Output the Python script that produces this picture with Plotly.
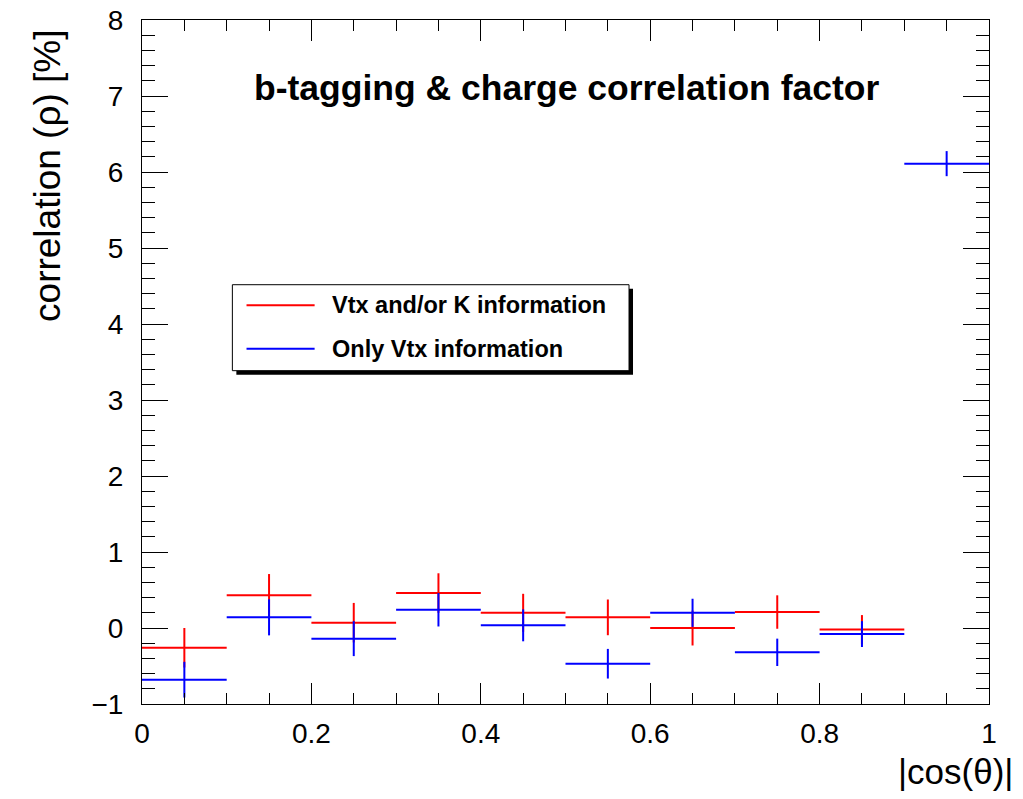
import plotly.graph_objects as go

# |cos(theta)| bins (centres and half-widths)
bin_centers = [0.05, 0.15, 0.25, 0.35, 0.45, 0.55, 0.65, 0.75, 0.85, 0.95]
bin_half_width = 0.05

# correlation factor [%] for the two tagging configurations
vtx_k_values = [-0.26, 0.43, 0.07, 0.46, 0.20, 0.14, 0.00, 0.21, -0.02]
vtx_k_errors = [0.26, 0.28, 0.26, 0.26, 0.25, 0.235, 0.23, 0.22, 0.19]
vtx_only_values = [-0.68, 0.14, -0.14, 0.24, 0.035, -0.47, 0.20, -0.32, -0.08, 6.11]
vtx_only_errors = [0.235, 0.237, 0.23, 0.22, 0.21, 0.195, 0.185, 0.18, 0.17, 0.165]

series_names = ["Vtx and/or K information", "Only Vtx information"]
series_colors = ["#ff0000", "#0000ff"]

FONT = "Liberation Sans, Arial, Helvetica, sans-serif"

fig = go.Figure()


def add_series(values, errors, color, name):
    n = len(values)
    fig.add_trace(go.Scatter(
        x=bin_centers[:n], y=values, name=name, mode="markers",
        marker=dict(size=1, color=color, opacity=0),
        error_x=dict(type="data", array=[bin_half_width] * n, symmetric=True,
                     color=color, thickness=2, width=0),
        error_y=dict(type="data", array=errors, symmetric=True,
                     color=color, thickness=2, width=0),
        showlegend=False, hoverinfo="x+y",
    ))


add_series(vtx_k_values, vtx_k_errors, series_colors[0], series_names[0])
add_series(vtx_only_values, vtx_only_errors, series_colors[1], series_names[1])

axis_common = dict(
    showline=True, linecolor="black", linewidth=1, mirror="ticks",
    ticks="inside", tickcolor="black", tickwidth=1,
    showgrid=False, zeroline=False, automargin=False,
    tickfont=dict(family=FONT, size=28, color="black"),
)

fig.update_xaxes(
    range=[0, 1], tickmode="linear", tick0=0, dtick=0.2, ticklen=21,
    tickformat="~g", ticklabelstandoff=4,
    minor=dict(ticks="inside", dtick=0.05, ticklen=11, tickcolor="black",
               tickwidth=1, showgrid=False),
    **axis_common,
)
fig.update_yaxes(
    range=[-1, 8], tickmode="linear", tick0=0, dtick=1, ticklen=26,
    ticklabelstandoff=12,
    minor=dict(ticks="inside", dtick=0.2, ticklen=13, tickcolor="black",
               tickwidth=1, showgrid=False),
    **axis_common,
)

annotations = [
    dict(text="<b>b-tagging & charge correlation factor</b>", x=0.501, y=0.901,
         xref="paper", yref="paper", showarrow=False, xanchor="center",
         yanchor="middle", font=dict(family=FONT, size=35.5, color="black")),
    dict(text="correlation (ρ) [%]", x=-0.111, y=0.772, xref="paper",
         yref="paper", showarrow=False, textangle=-90, xanchor="center",
         yanchor="middle", font=dict(family=FONT, size=37, color="black")),
    dict(text="|cos(θ)|", x=1.031, y=-0.099, xref="paper", yref="paper",
         showarrow=False, xanchor="right", yanchor="middle",
         font=dict(family=FONT, size=35, color="black")),
]

# legend box with drop shadow
box = dict(x0=0.1067, x1=0.575, y0=0.4873, y1=0.613)
shapes = [
    dict(type="rect", xref="paper", yref="paper",
         x0=box["x0"] + 0.0047, x1=box["x1"] + 0.0047,
         y0=box["y0"] - 0.0058, y1=box["y1"] - 0.0058,
         fillcolor="black", line=dict(width=0), layer="above"),
    dict(type="rect", xref="paper", yref="paper", **box,
         fillcolor="white", line=dict(color="black", width=1), layer="above"),
]
legend_rows_y = [0.5828, 0.5195]
for name, color, ly in zip(series_names, series_colors, legend_rows_y):
    shapes.append(dict(type="line", xref="paper", yref="paper",
                       x0=0.1234, x1=0.2038, y0=ly, y1=ly,
                       line=dict(color=color, width=2), layer="above"))
    annotations.append(dict(text=f"<b>{name}</b>", x=0.2214, y=ly,
                            xref="paper", yref="paper", showarrow=False,
                            xanchor="left", yanchor="middle",
                            font=dict(family=FONT, size=23.5, color="black")))

fig.update_layout(
    width=1023, height=799,
    margin=dict(l=142, r=34, t=20, b=95),
    paper_bgcolor="white", plot_bgcolor="white",
    annotations=annotations, shapes=shapes, showlegend=False,
)

fig.write_html("out.html")
